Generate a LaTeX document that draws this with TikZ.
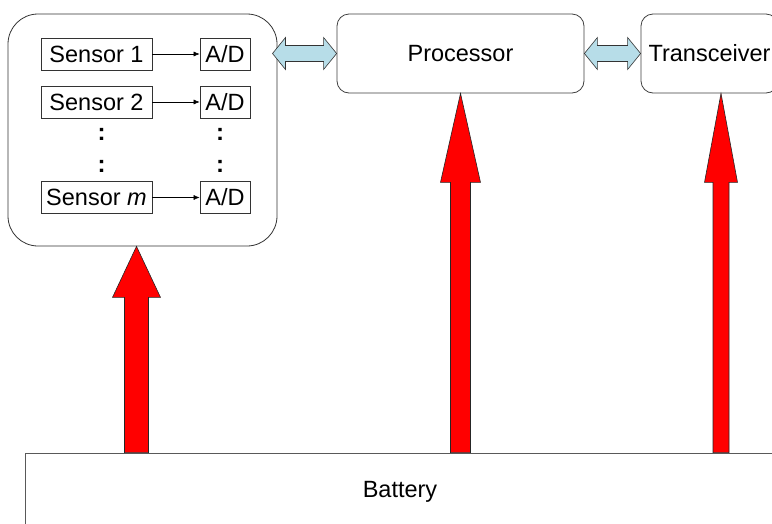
\documentclass[tikz,border=0pt]{standalone}
\usepackage{fontspec}
\setmainfont{Liberation Sans}
\usetikzlibrary{calc,arrows.meta}

\definecolor{linkblue}{RGB}{183,221,232}
\definecolor{feedred}{RGB}{255,0,0}

\tikzset{
  unit/.style={draw=black!75, line width=0.8pt, rounded corners=12pt,
    minimum width=247pt, minimum height=79pt, inner sep=0pt},
  sensbox/.style={draw=black!80, line width=0.7pt, minimum width=111pt,
    minimum height=32pt, inner sep=0pt},
  adbox/.style={sensbox, minimum width=50pt},
  dots/.style={inner sep=0pt, font=\fontsize{24}{28}\selectfont\bfseries},
  duplex/.style={draw=black!80, line width=0.6pt, fill=linkblue},
  feed/.style={draw=black!85, line width=0.6pt, fill=feedred}
}

% double arrow between two points (canvas units)
\newcommand{\duplex}[2]{%
  \draw[duplex] let \p1=(#1), \p2=(#2) in
    (\x1,\y1) -- (\x1+13pt,\y1+16pt) -- (\x1+13pt,\y1+8pt)
    -- (\x2-13pt,\y2+8pt) -- (\x2-13pt,\y2+16pt) -- (\x2,\y2)
    -- (\x2-13pt,\y2-16pt) -- (\x2-13pt,\y2-8pt)
    -- (\x1+13pt,\y1-8pt) -- (\x1+13pt,\y1-16pt) -- cycle;}

% block arrow from battery up to #1: shaft half, head half, head length
\newcommand{\feed}[4]{%
  \draw[feed] let \p1=(#1), \p2=(bat.north -| #1) in
    (\x1,\y1) -- (\x1+#3,\y1-#4) -- (\x1+#2,\y1-#4) -- (\x2+#2,\y2)
    -- (\x2-#2,\y2) -- (\x1-#2,\y1-#4) -- (\x1-#3,\y1-#4) -- cycle;}

\begin{document}
\begin{tikzpicture}[x=1pt, y=-1pt, font=\fontsize{23.5}{28}\selectfont]
    \clip (0,0) rectangle (772,523);
    \fill[white] (0,0) rectangle (772,523);

    % Blocco sensori
    \node[draw=black!80, line width=0.8pt, rounded corners=30pt,
          minimum width=269pt, minimum height=232pt] (box) at (142.5,130) {};
    \node[sensbox] (s1) at (96.5,54) {Sensor 1};
    \node[adbox] (ad1) at (225,54) {A/D};
    \node[sensbox] (s2) at (96.5,102) {Sensor 2};
    \node[adbox] (ad2) at (225,102) {A/D};
    \node[sensbox] (sm) at (96.5,197.5) {Sensor \textit{m}};
    \node[adbox] (adm) at (225,197.5) {A/D};
    \draw[-{Latex[length=6pt,width=5pt]}, line width=0.6pt] (s1) -- (ad1);
    \draw[-{Latex[length=6pt,width=5pt]}, line width=0.6pt] (s2) -- (ad2);
    \draw[-{Latex[length=6pt,width=5pt]}, line width=0.6pt] (sm) -- (adm);
    \node[dots] (d1) at (101.5,134) {:};
    \node[dots] (d2) at (101.5,166) {:};
    \node[dots] (d3) at (220,134) {:};
    \node[dots] (d4) at (220,166) {:};

    % Processore e transceiver
    \node[unit] (proc) at (460.5,53.5) {Processor};
    \node[unit, minimum width=137pt] (trx) at (709.5,53.5) {Transceiver};

    % Batteria
    \node[draw=black!65, line width=0.8pt, minimum width=750pt,
          minimum height=77pt, inner sep=0pt] (bat) at (400,491.5) {Battery};

    % Collegamenti dati
    \coordinate (boxout) at (272.5,53.5);
    \duplex{boxout}{proc.west}
    \duplex{proc.east}{trx.west}

    % Alimentazione
    \coordinate (sensin) at ([xshift=-6pt]box.south);
    \coordinate (trxin) at ([xshift=11.5pt]trx.south);
    \feed{sensin}{12pt}{24pt}{51pt}
    \feed{proc.south}{10pt}{20pt}{89pt}
    \feed{trxin}{8pt}{16.5pt}{89pt}
\end{tikzpicture}
\end{document}
